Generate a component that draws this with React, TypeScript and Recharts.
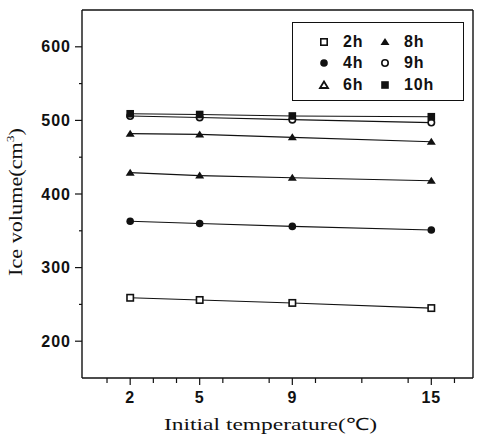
import React from 'react';
import { LineChart, Line, XAxis, YAxis, ReferenceLine } from 'recharts';

// Initial temperature (°C) and ice volume (cm³) after each freezing time
const temps = [2, 5, 9, 15];
const ice2h = [259, 256, 252, 245];
const ice4h = [363, 360, 356, 351];
const ice6h = [429, 425, 422, 418];
const ice8h = [482, 481, 477, 471];
const ice9h = [506, 504, 501, 497];
const ice10h = [509, 508, 506, 505];

const yTicks = [150, 200, 250, 300, 350, 400, 450, 500, 550, 600, 650];
const xTicks = [1, 2, 3, 4, 5, 6, 8, 9, 10, 12, 14, 15, 16];
const xLabels = [2, 5, 9, 15];

const X_DOMAIN: [number, number] = [-0.08, 16.8];
const Y_DOMAIN: [number, number] = [150, 650];

type MarkerKind = 'openSquare' | 'dot' | 'openTriangle' | 'triangle' | 'openCircle' | 'square';

const series: { key: string; name: string; marker: MarkerKind; values: number[] }[] = [
  { key: 'h2', name: '2h', marker: 'openSquare', values: ice2h },
  { key: 'h4', name: '4h', marker: 'dot', values: ice4h },
  { key: 'h6', name: '6h', marker: 'triangle', values: ice6h },
  { key: 'h8', name: '8h', marker: 'triangle', values: ice8h },
  { key: 'h9', name: '9h', marker: 'openCircle', values: ice9h },
  { key: 'h10', name: '10h', marker: 'square', values: ice10h },
];

const legendItems: { name: string; marker: MarkerKind }[] = [
  { name: '2h', marker: 'openSquare' },
  { name: '8h', marker: 'triangle' },
  { name: '4h', marker: 'dot' },
  { name: '9h', marker: 'openCircle' },
  { name: '6h', marker: 'openTriangle' },
  { name: '10h', marker: 'square' },
];

const data = temps.map((t, i) => {
  const row: Record<string, number> = { temp: t };
  series.forEach((s) => {
    row[s.key] = s.values[i];
  });
  return row;
});

const INK = '#111';
const TICK_FONT = '"Liberation Sans", Arial, sans-serif';
const TITLE_FONT = '"Liberation Serif", "Times New Roman", serif';

function Marker({ cx, cy, kind }: { cx: number; cy: number; kind: MarkerKind }) {
  switch (kind) {
    case 'openSquare':
      return <rect x={cx - 3.2} y={cy - 3.2} width={6.4} height={6.4} fill="#fff" stroke={INK} strokeWidth={1.6} />;
    case 'square':
      return <rect x={cx - 3.8} y={cy - 3.8} width={7.6} height={7.6} fill={INK} />;
    case 'dot':
      return <circle cx={cx} cy={cy} r={3.8} fill={INK} />;
    case 'openCircle':
      return <circle cx={cx} cy={cy} r={3.2} fill="#fff" stroke={INK} strokeWidth={1.6} />;
    case 'triangle':
      return <polygon points={`${cx - 4.5},${cy + 3} ${cx + 4.5},${cy + 3} ${cx},${cy - 4}`} fill={INK} />;
    case 'openTriangle':
      return (
        <polygon
          points={`${cx - 4},${cy + 3} ${cx + 4},${cy + 3} ${cx},${cy - 3.5}`}
          fill="#fff"
          stroke={INK}
          strokeWidth={1.8}
        />
      );
  }
}

function YTick({ x, y, payload }: any) {
  const major = payload.value % 100 === 0 && payload.value >= 200 && payload.value <= 600;
  if (payload.value === 150 || payload.value === 650) return null;
  return (
    <g>
      <line x1={x} x2={x - (major ? 7 : 3)} y1={y} y2={y} stroke={INK} strokeWidth={1.2} />
      {major && (
        <text
          x={x - 11}
          y={y}
          textAnchor="end"
          dominantBaseline="central"
          fontFamily={TICK_FONT}
          fontWeight="bold"
          fontSize={16}
          letterSpacing={1}
          fill={INK}
        >
          {payload.value}
        </text>
      )}
    </g>
  );
}

function XTick({ x, y, payload }: any) {
  const labelled = xLabels.includes(payload.value);
  return (
    <g>
      <line x1={x} x2={x} y1={y} y2={y + (labelled ? 7 : 5)} stroke={INK} strokeWidth={1.2} />
      {labelled && (
        <text
          x={x}
          y={y + 19}
          textAnchor="middle"
          dominantBaseline="central"
          fontFamily={TICK_FONT}
          fontWeight="bold"
          fontSize={16}
          letterSpacing={0.8}
          fill={INK}
        >
          {payload.value}
        </text>
      )}
    </g>
  );
}

function YTitle({ viewBox }: any) {
  const cx = viewBox.x + 16;
  const cy = viewBox.y + viewBox.height / 2 + 8;
  return (
    <text
      x={cx}
      y={cy}
      transform={`rotate(-90, ${cx}, ${cy})`}
      textAnchor="middle"
      dominantBaseline="central"
      fontFamily={TITLE_FONT}
      fontSize={18}
      textLength={148}
      lengthAdjust="spacingAndGlyphs"
      fill={INK}
    >
      Ice volume(cm<tspan fontSize={11} dy={-6}>3</tspan>
      <tspan dy={6}>)</tspan>
    </text>
  );
}

function XTitle({ viewBox }: any) {
  return (
    <text
      x={viewBox.x + viewBox.width / 2 - 7}
      y={viewBox.y + 46}
      textAnchor="middle"
      dominantBaseline="central"
      fontFamily={TITLE_FONT}
      fontSize={17}
      textLength={213}
      lengthAdjust="spacingAndGlyphs"
      fill={INK}
    >
      Initial  temperature(℃)
    </text>
  );
}

function LegendBox() {
  return (
    <div
      style={{
        position: 'absolute',
        left: 292,
        top: 22,
        width: 172,
        height: 79,
        border: `1.5px solid ${INK}`,
        boxSizing: 'border-box',
        display: 'grid',
        gridTemplateColumns: '1fr 1fr',
        gridTemplateRows: 'repeat(3, 1fr)',
        padding: '8px 0 4px 0',
        fontFamily: TICK_FONT,
        fontWeight: 'bold',
        fontSize: 16,
        letterSpacing: 0.8,
        color: INK,
      }}
    >
      {legendItems.map((item, i) => (
        <div
          key={item.name}
          style={{ display: 'flex', alignItems: 'center', paddingLeft: i % 2 === 0 ? 24 : 0 }}
        >
          <svg width={14} height={14} style={{ marginRight: 12 }}>
            <Marker cx={7} cy={7} kind={item.marker} />
          </svg>
          <span>{item.name}</span>
        </div>
      ))}
    </div>
  );
}

export default function App() {
  return (
    <div style={{ position: 'absolute', left: 0, top: 0, width: 477, height: 437, background: '#fff' }}>
      <LineChart width={477} height={437} data={data} margin={{ top: 10, right: 4, left: 0, bottom: 0 }}>
        <XAxis
          dataKey="temp"
          type="number"
          domain={X_DOMAIN}
          ticks={xTicks}
          interval={0}
          height={59}
          tickSize={0}
          tickMargin={0}
          tickLine={false}
          tick={<XTick />}
          axisLine={{ stroke: INK, strokeWidth: 1.4 }}
          label={<XTitle />}
        />
        <YAxis
          type="number"
          domain={Y_DOMAIN}
          ticks={yTicks}
          interval={0}
          width={82}
          tickSize={0}
          tickMargin={0}
          tickLine={false}
          tick={<YTick />}
          axisLine={{ stroke: INK, strokeWidth: 1.4 }}
          label={<YTitle />}
        />
        {/* closing frame along the top and right edges of the plot */}
        <ReferenceLine y={Y_DOMAIN[1]} stroke={INK} strokeWidth={1.4} />
        <ReferenceLine x={X_DOMAIN[1]} stroke={INK} strokeWidth={1.4} />
        {series.map((s) => (
          <Line
            key={s.key}
            dataKey={s.key}
            name={s.name}
            type="linear"
            stroke={INK}
            strokeWidth={1.1}
            isAnimationActive={false}
            activeDot={false}
            dot={(p: any) => <Marker key={`${s.key}-${p.index}`} cx={p.cx} cy={p.cy} kind={s.marker} />}
          />
        ))}
      </LineChart>
      <LegendBox />
    </div>
  );
}
